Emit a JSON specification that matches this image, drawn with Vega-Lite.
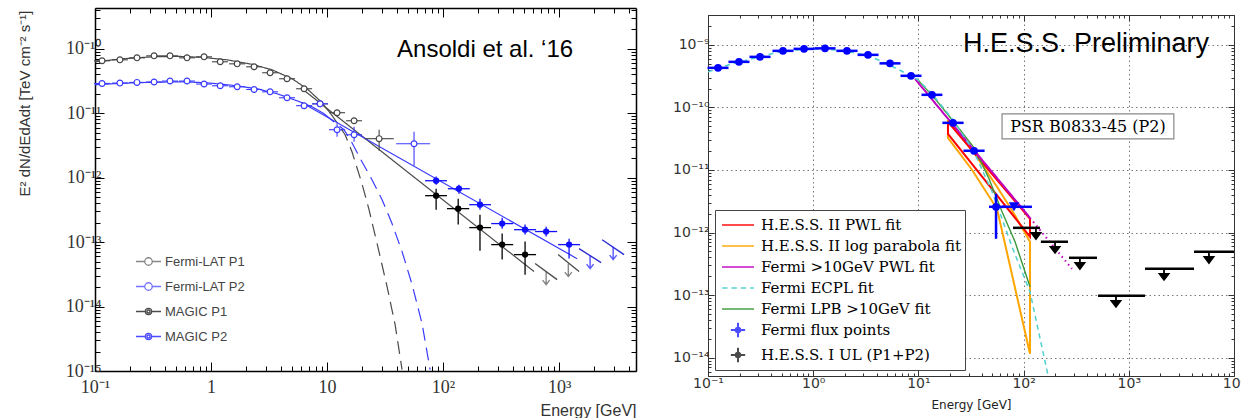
{
"$schema": "https://vega.github.io/schema/vega-lite/v6.json",
"padding": {"left": 17, "top": 1, "right": 0, "bottom": 0},
"background": "white",
"config": {"view": {"stroke": null}},
"datasets": {
"L_text": [{"label": "Ansoldi et al. ‘16", "E": 40.1, "F": 7.51e-11}],
"L_pts": [
{"series":"Fermi-LAT P1","E":0.115,"Elo":0.098,"Ehi":0.135,"F":6.52e-11,"Flo":6.3e-11,"Fhi":6.75e-11},
{"series":"Fermi-LAT P1","E":0.164,"Elo":0.140,"Ehi":0.192,"F":6.75e-11,"Flo":6.5e-11,"Fhi":7.0e-11},
{"series":"Fermi-LAT P1","E":0.230,"Elo":0.197,"Ehi":0.270,"F":7.25e-11,"Flo":7.0e-11,"Fhi":7.5e-11},
{"series":"Fermi-LAT P1","E":0.323,"Elo":0.276,"Ehi":0.378,"F":7.78e-11,"Flo":7.5e-11,"Fhi":8.05e-11},
{"series":"Fermi-LAT P1","E":0.443,"Elo":0.378,"Ehi":0.519,"F":7.78e-11,"Flo":7.5e-11,"Fhi":8.05e-11},
{"series":"Fermi-LAT P1","E":0.621,"Elo":0.530,"Ehi":0.727,"F":7.25e-11,"Flo":7.0e-11,"Fhi":7.5e-11},
{"series":"Fermi-LAT P1","E":0.871,"Elo":0.744,"Ehi":1.02,"F":7.51e-11,"Flo":7.25e-11,"Fhi":7.8e-11},
{"series":"Fermi-LAT P1","E":1.20,"Elo":1.02,"Ehi":1.40,"F":6.29e-11,"Flo":6.05e-11,"Fhi":6.5e-11},
{"series":"Fermi-LAT P1","E":1.68,"Elo":1.43,"Ehi":1.97,"F":5.85e-11,"Flo":5.65e-11,"Fhi":6.05e-11},
{"series":"Fermi-LAT P1","E":2.35,"Elo":2.01,"Ehi":2.75,"F":5.26e-11,"Flo":5.05e-11,"Fhi":5.45e-11},
{"series":"Fermi-LAT P1","E":3.23,"Elo":2.76,"Ehi":3.78,"F":4.25e-11,"Flo":4.1e-11,"Fhi":4.4e-11},
{"series":"Fermi-LAT P1","E":4.52,"Elo":3.86,"Ehi":5.30,"F":3.43e-11,"Flo":3.3e-11,"Fhi":3.55e-11},
{"series":"Fermi-LAT P1","E":6.34,"Elo":5.41,"Ehi":7.43,"F":2.40e-11,"Flo":2.3e-11,"Fhi":2.5e-11},
{"series":"Fermi-LAT P1","E":8.71,"Elo":7.43,"Ehi":10.2,"F":1.40e-11,"Flo":1.3e-11,"Fhi":1.5e-11},
{"series":"Fermi-LAT P1","E":12.2,"Elo":10.4,"Ehi":14.3,"F":1.02e-11,"Flo":9.2e-12,"Fhi":1.13e-11},
{"series":"Fermi-LAT P1","E":17.1,"Elo":14.6,"Ehi":20.0,"F":7.65e-12,"Flo":6.9e-12,"Fhi":8.5e-12},
{"series":"Fermi-LAT P1","E":28.1,"Elo":21.0,"Ehi":37.6,"F":4.03e-12,"Flo":2.62e-12,"Fhi":5.55e-12},
{"series":"Fermi-LAT P2","E":0.115,"Elo":0.098,"Ehi":0.135,"F":2.90e-11,"Flo":2.8e-11,"Fhi":3.0e-11},
{"series":"Fermi-LAT P2","E":0.164,"Elo":0.140,"Ehi":0.192,"F":2.94e-11,"Flo":2.84e-11,"Fhi":3.04e-11},
{"series":"Fermi-LAT P2","E":0.230,"Elo":0.197,"Ehi":0.270,"F":3.01e-11,"Flo":2.91e-11,"Fhi":3.11e-11},
{"series":"Fermi-LAT P2","E":0.323,"Elo":0.276,"Ehi":0.378,"F":3.05e-11,"Flo":2.95e-11,"Fhi":3.15e-11},
{"series":"Fermi-LAT P2","E":0.443,"Elo":0.378,"Ehi":0.519,"F":3.16e-11,"Flo":3.05e-11,"Fhi":3.27e-11},
{"series":"Fermi-LAT P2","E":0.621,"Elo":0.530,"Ehi":0.727,"F":3.16e-11,"Flo":3.05e-11,"Fhi":3.27e-11},
{"series":"Fermi-LAT P2","E":0.871,"Elo":0.744,"Ehi":1.02,"F":2.84e-11,"Flo":2.74e-11,"Fhi":2.94e-11},
{"series":"Fermi-LAT P2","E":1.20,"Elo":1.02,"Ehi":1.40,"F":2.67e-11,"Flo":2.58e-11,"Fhi":2.76e-11},
{"series":"Fermi-LAT P2","E":1.68,"Elo":1.43,"Ehi":1.97,"F":2.58e-11,"Flo":2.49e-11,"Fhi":2.67e-11},
{"series":"Fermi-LAT P2","E":2.35,"Elo":2.01,"Ehi":2.75,"F":2.34e-11,"Flo":2.26e-11,"Fhi":2.42e-11},
{"series":"Fermi-LAT P2","E":3.23,"Elo":2.76,"Ehi":3.78,"F":2.15e-11,"Flo":2.07e-11,"Fhi":2.23e-11},
{"series":"Fermi-LAT P2","E":4.52,"Elo":3.86,"Ehi":5.30,"F":1.74e-11,"Flo":1.67e-11,"Fhi":1.81e-11},
{"series":"Fermi-LAT P2","E":6.34,"Elo":5.41,"Ehi":7.43,"F":1.31e-11,"Flo":1.25e-11,"Fhi":1.37e-11},
{"series":"Fermi-LAT P2","E":8.71,"Elo":7.43,"Ehi":10.2,"F":1.40e-11,"Flo":1.3e-11,"Fhi":1.5e-11},
{"series":"Fermi-LAT P2","E":12.2,"Elo":10.4,"Ehi":14.3,"F":5.55e-12,"Flo":4.33e-12,"Fhi":6.87e-12},
{"series":"Fermi-LAT P2","E":17.1,"Elo":14.6,"Ehi":20.0,"F":4.64e-12,"Flo":3.6e-12,"Fhi":6.18e-12},
{"series":"Fermi-LAT P2","E":56.2,"Elo":39.4,"Ehi":77.3,"F":3.37e-12,"Flo":1.53e-12,"Fhi":5.16e-12},
{"series":"MAGIC P1","E":87.1,"Elo":70,"Ehi":108,"F":5.26e-13,"Flo":3.19e-13,"Fhi":6.74e-13},
{"series":"MAGIC P1","E":135,"Elo":108,"Ehi":168,"F":3.31e-13,"Flo":1.87e-13,"Fhi":4.72e-13},
{"series":"MAGIC P1","E":208,"Elo":168,"Ehi":259,"F":1.68e-13,"Flo":7.38e-14,"Fhi":2.67e-13},
{"series":"MAGIC P1","E":323,"Elo":260,"Ehi":402,"F":9.15e-14,"Flo":5.36e-14,"Fhi":1.36e-13},
{"series":"MAGIC P1","E":509,"Elo":409,"Ehi":633,"F":6.40e-14,"Flo":3.13e-14,"Fhi":1.02e-13},
{"series":"MAGIC P2","E":87.1,"Elo":70,"Ehi":108,"F":8.97e-13,"Flo":7.78e-13,"Fhi":1.04e-12},
{"series":"MAGIC P2","E":137,"Elo":110,"Ehi":170,"F":6.74e-13,"Flo":5.65e-13,"Fhi":7.78e-13},
{"series":"MAGIC P2","E":208,"Elo":168,"Ehi":259,"F":3.81e-13,"Flo":3.19e-13,"Fhi":4.72e-13},
{"series":"MAGIC P2","E":323,"Elo":260,"Ehi":402,"F":1.94e-13,"Flo":1.62e-13,"Fhi":2.40e-13},
{"series":"MAGIC P2","E":509,"Elo":409,"Ehi":633,"F":1.56e-13,"Flo":1.31e-13,"Fhi":1.87e-13},
{"series":"MAGIC P2","E":773,"Elo":621,"Ehi":962,"F":1.46e-13,"Flo":1.22e-13,"Fhi":1.74e-13},
{"series":"MAGIC P2","E":1219,"Elo":980,"Ehi":1516,"F":9.15e-14,"Flo":5.55e-14,"Fhi":1.13e-13}
],
"L_curve": [
{"pulse":"P1","part":"solid","E":0.1,"F":6.29e-11},
{"pulse":"P1","part":"solid","E":0.171,"F":7.00e-11},
{"pulse":"P1","part":"solid","E":0.310,"F":7.51e-11},
{"pulse":"P1","part":"solid","E":0.509,"F":7.65e-11},
{"pulse":"P1","part":"solid","E":0.836,"F":7.38e-11},
{"pulse":"P1","part":"solid","E":1.374,"F":6.75e-11},
{"pulse":"P1","part":"solid","E":2.257,"F":5.75e-11},
{"pulse":"P1","part":"solid","E":3.357,"F":4.72e-11},
{"pulse":"P1","part":"solid","E":4.993,"F":3.43e-11},
{"pulse":"P1","part":"solid","E":6.725,"F":2.40e-11},
{"pulse":"P1","part":"solid","E":8.707,"F":1.56e-11},
{"pulse":"P1","part":"solid","E":10.6,"F":1.02e-11},
{"pulse":"P1","part":"dashed","E":10.6,"F":1.02e-11},
{"pulse":"P1","part":"dashed","E":12.2,"F":7.13e-12},
{"pulse":"P1","part":"dashed","E":14.3,"F":4.64e-12},
{"pulse":"P1","part":"dashed","E":16.4,"F":2.53e-12},
{"pulse":"P1","part":"dashed","E":20.0,"F":8.07e-13},
{"pulse":"P1","part":"dashed","E":23.0,"F":3.19e-13},
{"pulse":"P1","part":"dashed","E":27.0,"F":9.48e-14},
{"pulse":"P1","part":"dashed","E":32.9,"F":2.04e-14},
{"pulse":"P1","part":"dashed","E":38.6,"F":5.26e-15},
{"pulse":"P1","part":"dashed","E":44.3,"F":1.05e-15},
{"pulse":"P2","part":"solid","E":0.1,"F":2.77e-11},
{"pulse":"P2","part":"solid","E":0.171,"F":2.92e-11},
{"pulse":"P2","part":"solid","E":0.310,"F":3.03e-11},
{"pulse":"P2","part":"solid","E":0.562,"F":3.08e-11},
{"pulse":"P2","part":"solid","E":0.924,"F":2.97e-11},
{"pulse":"P2","part":"solid","E":1.517,"F":2.72e-11},
{"pulse":"P2","part":"solid","E":2.493,"F":2.40e-11},
{"pulse":"P2","part":"solid","E":3.707,"F":2.01e-11},
{"pulse":"P2","part":"solid","E":5.513,"F":1.56e-11},
{"pulse":"P2","part":"solid","E":7.427,"F":1.26e-11},
{"pulse":"P2","part":"solid","E":9.42,"F":9.83e-12},
{"pulse":"P2","part":"dashed","E":9.42,"F":9.83e-12},
{"pulse":"P2","part":"dashed","E":11.7,"F":7.13e-12},
{"pulse":"P2","part":"dashed","E":14.0,"F":5.55e-12},
{"pulse":"P2","part":"dashed","E":16.4,"F":3.49e-12},
{"pulse":"P2","part":"dashed","E":20.0,"F":1.77e-12},
{"pulse":"P2","part":"dashed","E":24.4,"F":9.31e-13},
{"pulse":"P2","part":"dashed","E":29.8,"F":4.56e-13},
{"pulse":"P2","part":"dashed","E":36.3,"F":1.94e-13},
{"pulse":"P2","part":"dashed","E":44.3,"F":7.13e-14},
{"pulse":"P2","part":"dashed","E":54.1,"F":2.19e-14},
{"pulse":"P2","part":"dashed","E":65.9,"F":5.44e-15},
{"pulse":"P2","part":"dashed","E":77.3,"F":1.05e-15}
],
"L_pl": [
{"pulse":"P1","E":6.08,"F":2.40e-11},{"pulse":"P1","E":608,"F":3.49e-14},
{"pulse":"P2","E":6.08,"F":1.46e-11},{"pulse":"P2","E":1429,"F":5.54e-14}
],
"L_ulseg": [
{"pulse":"P1","id":"a","E":621,"F":4.65e-14},{"pulse":"P1","id":"a","E":961,"F":2.62e-14},
{"pulse":"P1","id":"b","E":980,"F":6.40e-14},{"pulse":"P1","id":"b","E":1486,"F":3.49e-14},
{"pulse":"P2","id":"c","E":1486,"F":7.93e-14},{"pulse":"P2","id":"c","E":2301,"F":4.81e-14},
{"pulse":"P2","id":"d","E":2349,"F":1.09e-13},{"pulse":"P2","id":"d","E":3631,"F":6.40e-14}
],
"L_ularr": [
{"pulse":"P1","E":773,"F":3.49e-14},{"pulse":"P1","E":1200,"F":4.65e-14},
{"pulse":"P2","E":1850,"F":6.18e-14},{"pulse":"P2","E":2924,"F":8.51e-14}
],
"L_leg": [
{"series":"Fermi-LAT P1","E":null,"F":null},{"series":"Fermi-LAT P2","E":null,"F":null},
{"series":"MAGIC P1","E":null,"F":null},{"series":"MAGIC P2","E":null,"F":null}
],
"R_text": [{"label":"H.E.S.S. Preliminary","E":26.5,"F":7.73e-10}],
"R_psr": [{"label":"PSR B0833-45 (P2)","E":409,"F":4.07e-11,"Elo":62.4,"Ehi":2680,"Flo":3.15e-11,"Fhi":7.9e-11}],
"R_fermi": [
{"E":0.1245,"Elo":0.0989,"Ehi":0.1567,"F":4.29e-10},
{"E":0.197,"Elo":0.1565,"Ehi":0.248,"F":5.35e-10},
{"E":0.312,"Elo":0.248,"Ehi":0.393,"F":6.43e-10},
{"E":0.516,"Elo":0.410,"Ehi":0.650,"F":8.02e-10},
{"E":0.818,"Elo":0.650,"Ehi":1.03,"F":8.63e-10},
{"E":1.295,"Elo":1.03,"Ehi":1.63,"F":8.79e-10},
{"E":2.094,"Elo":1.66,"Ehi":2.64,"F":8.02e-10},
{"E":3.319,"Elo":2.64,"Ehi":4.18,"F":6.92e-10},
{"E":5.370,"Elo":4.27,"Ehi":6.76,"F":5.06e-10},
{"E":8.51,"Elo":6.76,"Ehi":10.7,"F":3.20e-10},
{"E":13.46,"Elo":10.7,"Ehi":16.9,"F":1.59e-10},
{"E":21.33,"Elo":16.9,"Ehi":26.9,"F":5.67e-11},
{"E":33.8,"Elo":26.8,"Ehi":42.6,"F":2.03e-11},
{"E":54.7,"Elo":46.9,"Ehi":65.2,"F":2.58e-12}
],
"R_fermi_err": [{"E":54.7,"Flo":7.96e-13,"Fhi":4.17e-12}],
"R_fermi_ul": [{"E":81.1,"Elo":62.4,"Ehi":120,"F":2.58e-12}],
"R_ecpl": [
{"E":0.1,"F":3.71e-10},{"E":0.158,"F":4.80e-10},{"E":0.262,"F":5.98e-10},{"E":0.433,"F":7.45e-10},
{"E":0.733,"F":8.32e-10},{"E":1.213,"F":8.63e-10},{"E":2.006,"F":8.02e-10},{"E":3.39,"F":6.67e-10},
{"E":5.26,"F":4.80e-10},{"E":7.46,"F":3.57e-10},{"E":9.91,"F":2.76e-10},{"E":13.46,"F":1.65e-10},
{"E":21.33,"F":6.34e-11},{"E":33.8,"F":1.95e-11},{"E":50.2,"F":4.49e-12},{"E":62.4,"F":1.66e-12},
{"E":77.6,"F":5.93e-13},{"E":115,"F":1.13e-13},{"E":171,"F":5.15e-15}
],
"R_pwl": [
{"part":"fit","E":9.29,"F":2.86e-10},{"part":"fit","E":115,"F":1.72e-12},
{"part":"ext","E":115,"F":1.72e-12},{"part":"ext","E":288,"F":2.64e-13}
],
"R_lpb": [
{"E":9.70,"F":2.86e-10},{"E":14.4,"F":1.37e-10},{"E":21.3,"F":6.11e-11},{"E":34.5,"F":2.18e-11},
{"E":46.9,"F":7.23e-12},{"E":62.4,"F":2.15e-12},{"E":82.9,"F":7.13e-13},{"E":115,"F":1.36e-13}
],
"R_red": [
{"o":1,"E":19.1,"F":5.89e-11},{"o":2,"E":115,"F":1.66e-12},{"o":3,"E":115,"F":8.57e-13},
{"o":4,"E":19.1,"F":3.79e-11},{"o":5,"E":19.1,"F":5.89e-11}
],
"R_orange": [
{"o":1,"E":19.1,"F":6.34e-11},{"o":2,"E":32.3,"F":2.10e-11},{"o":3,"E":55.9,"F":5.39e-12},
{"o":4,"E":81.1,"F":2.00e-12},{"o":5,"E":115,"F":7.13e-13},{"o":6,"E":115,"F":1.16e-14},
{"o":7,"E":55.9,"F":2.40e-12},{"o":8,"E":32.3,"F":1.01e-11},{"o":9,"E":19.1,"F":3.27e-11},
{"o":10,"E":19.1,"F":6.34e-11}
],
"R_hess": [
{"Elo":79.3,"Ehi":143,"Earr":131,"F":1.19e-12},
{"Elo":146,"Ehi":264,"Earr":199,"F":7.13e-13},
{"Elo":270,"Ehi":499,"Earr":343,"F":3.95e-13},
{"Elo":510,"Ehi":1426,"Earr":755,"F":9.77e-14},
{"Elo":1426,"Ehi":4169,"Earr":2163,"F":2.64e-13},
{"Elo":4169,"Ehi":10000,"Earr":5781,"F":4.93e-13}
],
"R_leg": [
{"series2":"H.E.S.S. II PWL fit","E":null,"F":null},
{"series2":"H.E.S.S. II log parabola fit","E":null,"F":null},
{"series2":"Fermi >10GeV PWL fit","E":null,"F":null},
{"series2":"Fermi ECPL fit","E":null,"F":null},
{"series2":"Fermi LPB >10GeV fit","E":null,"F":null},
{"series2":"Fermi flux points","E":null,"F":null},
{"series2":"H.E.S.S. I UL (P1+P2)","E":null,"F":null}
]
},
"spacing": 72,
"bounds": "flush",
"resolve": {"scale": {"color": "independent", "shape": "independent", "strokeDash": "independent", "x": "independent", "y": "independent"},
            "legend": {"color": "independent", "shape": "independent", "strokeDash": "independent"}},
"hconcat": [
{
"width": 541, "height": 363,
"resolve": {"axis": {"x": "independent", "y": "independent"}},
"layer": [
{"data": {"name": "L_text"},
 "mark": {"type": "text", "align": "left", "baseline": "alphabetic", "font": "Liberation Sans", "fontSize": 24, "color": "black"},
 "encoding": {
  "x": {"field": "E", "type": "quantitative", "scale": {"type": "log", "domain": [0.1, 4600], "nice": false},
   "axis": {"orient": "bottom", "values": [0.1,0.2,0.3,0.4,0.5,0.6,0.7,0.8,0.9,1,2,3,4,5,6,7,8,9,10,20,30,40,50,60,70,80,90,100,200,300,400,500,600,700,800,900,1000,2000,3000,4000],
    "labelExpr": "datum.value===0.1?'10⁻¹':datum.value===1?'1':datum.value===10?'10':datum.value===100?'10²':datum.value===1000?'10³':''",
    "tickSize": {"condition": {"test": "abs(log(datum.value)/LN10-round(log(datum.value)/LN10))<0.001", "value": -9}, "value": -5},
    "tickColor": "black", "domainColor": "black", "domainWidth": 1.5, "grid": false,
    "labelFont": "Liberation Serif", "labelFontSize": 18, "labelColor": "#333", "labelPadding": 16, "labelFlush": false, "labelOverlap": false,
    "title": "Energy [GeV]", "titleFont": "Liberation Sans", "titleFontSize": 16, "titleFontWeight": "normal", "titleColor": "#333", "titleAnchor": "end", "titlePadding": 2}},
  "y": {"field": "F", "type": "quantitative", "scale": {"type": "log", "domain": [1e-15, 4.3e-10], "nice": false},
   "axis": {"orient": "left", "values": [1e-15,2e-15,3e-15,4e-15,5e-15,6e-15,7e-15,8e-15,9e-15,1e-14,2e-14,3e-14,4e-14,5e-14,6e-14,7e-14,8e-14,9e-14,1e-13,2e-13,3e-13,4e-13,5e-13,6e-13,7e-13,8e-13,9e-13,1e-12,2e-12,3e-12,4e-12,5e-12,6e-12,7e-12,8e-12,9e-12,1e-11,2e-11,3e-11,4e-11,5e-11,6e-11,7e-11,8e-11,9e-11,1e-10,2e-10,3e-10,4e-10],
    "labelExpr": "datum.value===1e-10?'10⁻¹⁰':datum.value===1e-11?'10⁻¹¹':datum.value===1e-12?'10⁻¹²':datum.value===1e-13?'10⁻¹³':datum.value===1e-14?'10⁻¹⁴':datum.value===1e-15?'10⁻¹⁵':''",
    "tickSize": {"condition": {"test": "abs(log(datum.value)/LN10-round(log(datum.value)/LN10))<0.001", "value": -9}, "value": -5},
    "tickColor": "black", "domainColor": "black", "domainWidth": 1.5, "grid": false,
    "labelFont": "Liberation Serif", "labelFontSize": 18, "labelColor": "#333", "labelPadding": 3, "labelOverlap": false, "labelFlush": false,
    "title": "E² dN/dEdAdt [TeV cm⁻² s⁻¹]", "titleFont": "Liberation Sans", "titleFontSize": 15, "titleFontWeight": "normal", "titleColor": "#333",
    "titleAngle": 270, "titleX": -71, "titleY": 95, "titleAlign": "center", "titleBaseline": "middle"}},
  "text": {"field": "label"}}},
{"data": {"name": "L_text"},
 "mark": {"type": "text", "opacity": 0},
 "encoding": {
  "x": {"field": "E", "type": "quantitative",
   "axis": {"orient": "top", "values": [0.1,0.2,0.3,0.4,0.5,0.6,0.7,0.8,0.9,1,2,3,4,5,6,7,8,9,10,20,30,40,50,60,70,80,90,100,200,300,400,500,600,700,800,900,1000,2000,3000,4000],
    "labels": false, "title": null, "grid": false,
    "tickSize": {"condition": {"test": "abs(log(datum.value)/LN10-round(log(datum.value)/LN10))<0.001", "value": -9}, "value": -5},
    "tickColor": "black", "domainColor": "black", "domainWidth": 1.5}},
  "y": {"field": "F", "type": "quantitative",
   "axis": {"orient": "right", "values": [1e-15,2e-15,3e-15,4e-15,5e-15,6e-15,7e-15,8e-15,9e-15,1e-14,2e-14,3e-14,4e-14,5e-14,6e-14,7e-14,8e-14,9e-14,1e-13,2e-13,3e-13,4e-13,5e-13,6e-13,7e-13,8e-13,9e-13,1e-12,2e-12,3e-12,4e-12,5e-12,6e-12,7e-12,8e-12,9e-12,1e-11,2e-11,3e-11,4e-11,5e-11,6e-11,7e-11,8e-11,9e-11,1e-10,2e-10,3e-10,4e-10],
    "labels": false, "title": null, "grid": false,
    "tickSize": {"condition": {"test": "abs(log(datum.value)/LN10-round(log(datum.value)/LN10))<0.001", "value": -9}, "value": -5},
    "tickColor": "black", "domainColor": "black", "domainWidth": 1.5}}}},
{"data": {"name": "L_curve"}, "transform": [{"filter": "datum.pulse==='P1'"}],
 "mark": {"type": "line", "color": "#4a4a4a", "strokeWidth": 1.2, "clip": true},
 "encoding": {"x": {"field": "E", "type": "quantitative", "axis": null}, "y": {"field": "F", "type": "quantitative", "axis": null},
  "strokeDash": {"field": "part", "type": "nominal", "scale": {"domain": ["solid", "dashed"], "range": [[1, 0], [13, 7]]}, "legend": null}}},
{"data": {"name": "L_curve"}, "transform": [{"filter": "datum.pulse==='P2'"}],
 "mark": {"type": "line", "color": "#3a3aff", "strokeWidth": 1.2, "clip": true},
 "encoding": {"x": {"field": "E", "type": "quantitative", "axis": null}, "y": {"field": "F", "type": "quantitative", "axis": null},
  "strokeDash": {"field": "part", "type": "nominal", "scale": {"domain": ["solid", "dashed"], "range": [[1, 0], [13, 7]]}, "legend": null}}},
{"data": {"name": "L_pl"}, "transform": [{"filter": "datum.pulse==='P1'"}],
 "mark": {"type": "line", "color": "#4a4a4a", "strokeWidth": 1.2},
 "encoding": {"x": {"field": "E", "type": "quantitative", "axis": null}, "y": {"field": "F", "type": "quantitative", "axis": null}}},
{"data": {"name": "L_pl"}, "transform": [{"filter": "datum.pulse==='P2'"}],
 "mark": {"type": "line", "color": "#3a3aff", "strokeWidth": 1.2},
 "encoding": {"x": {"field": "E", "type": "quantitative", "axis": null}, "y": {"field": "F", "type": "quantitative", "axis": null}}},
{"data": {"name": "L_ulseg"}, "transform": [{"filter": "datum.pulse==='P1'"}],
 "mark": {"type": "line", "color": "#4a4a4a", "strokeWidth": 1.3},
 "encoding": {"x": {"field": "E", "type": "quantitative", "axis": null}, "y": {"field": "F", "type": "quantitative", "axis": null}, "detail": {"field": "id"}}},
{"data": {"name": "L_ulseg"}, "transform": [{"filter": "datum.pulse==='P2'"}],
 "mark": {"type": "line", "color": "#2a2ad0", "strokeWidth": 1.3},
 "encoding": {"x": {"field": "E", "type": "quantitative", "axis": null}, "y": {"field": "F", "type": "quantitative", "axis": null}, "detail": {"field": "id"}}},
{"data": {"name": "L_ularr"}, "transform": [{"filter": "datum.pulse==='P1'"}],
 "mark": {"type": "point", "shape": "M0,0V2.6M-0.7,1.7L0,2.6L0.7,1.7", "size": 100, "filled": false, "color": "#4a4a4a", "strokeWidth": 1.3},
 "encoding": {"x": {"field": "E", "type": "quantitative", "axis": null}, "y": {"field": "F", "type": "quantitative", "axis": null}}},
{"data": {"name": "L_ularr"}, "transform": [{"filter": "datum.pulse==='P2'"}],
 "mark": {"type": "point", "shape": "M0,0V2.6M-0.7,1.7L0,2.6L0.7,1.7", "size": 100, "filled": false, "color": "#1a1aff", "strokeWidth": 1.5},
 "encoding": {"x": {"field": "E", "type": "quantitative", "axis": null}, "y": {"field": "F", "type": "quantitative", "axis": null}}},
{"data": {"name": "L_pts"}, "transform": [{"filter": "datum.series==='Fermi-LAT P1'"}],
 "mark": {"type": "rule", "color": "#444", "strokeWidth": 1.1},
 "encoding": {"x": {"field": "Elo", "type": "quantitative", "axis": null}, "x2": {"field": "Ehi"}, "y": {"field": "F", "type": "quantitative", "axis": null}}},
{"data": {"name": "L_pts"}, "transform": [{"filter": "datum.series==='Fermi-LAT P1'"}],
 "mark": {"type": "rule", "color": "#444", "strokeWidth": 1.1},
 "encoding": {"x": {"field": "E", "type": "quantitative", "axis": null}, "y": {"field": "Flo", "type": "quantitative", "axis": null}, "y2": {"field": "Fhi"}}},
{"data": {"name": "L_pts"}, "transform": [{"filter": "datum.series==='Fermi-LAT P1'"}],
 "mark": {"type": "point", "shape": "circle", "size": 34, "fill": "white", "stroke": "#444", "strokeWidth": 1.2, "opacity": 1},
 "encoding": {"x": {"field": "E", "type": "quantitative", "axis": null}, "y": {"field": "F", "type": "quantitative", "axis": null}}},
{"data": {"name": "L_pts"}, "transform": [{"filter": "datum.series==='Fermi-LAT P2'"}],
 "mark": {"type": "rule", "color": "#3a3aff", "strokeWidth": 1.1},
 "encoding": {"x": {"field": "Elo", "type": "quantitative", "axis": null}, "x2": {"field": "Ehi"}, "y": {"field": "F", "type": "quantitative", "axis": null}}},
{"data": {"name": "L_pts"}, "transform": [{"filter": "datum.series==='Fermi-LAT P2'"}],
 "mark": {"type": "rule", "color": "#3a3aff", "strokeWidth": 1.1},
 "encoding": {"x": {"field": "E", "type": "quantitative", "axis": null}, "y": {"field": "Flo", "type": "quantitative", "axis": null}, "y2": {"field": "Fhi"}}},
{"data": {"name": "L_pts"}, "transform": [{"filter": "datum.series==='Fermi-LAT P2'"}],
 "mark": {"type": "point", "shape": "circle", "size": 34, "fill": "white", "stroke": "#3a3aff", "strokeWidth": 1.2, "opacity": 1},
 "encoding": {"x": {"field": "E", "type": "quantitative", "axis": null}, "y": {"field": "F", "type": "quantitative", "axis": null}}},
{"data": {"name": "L_pts"}, "transform": [{"filter": "datum.series==='MAGIC P1'"}],
 "mark": {"type": "rule", "color": "#000", "strokeWidth": 1.3},
 "encoding": {"x": {"field": "Elo", "type": "quantitative", "axis": null}, "x2": {"field": "Ehi"}, "y": {"field": "F", "type": "quantitative", "axis": null}}},
{"data": {"name": "L_pts"}, "transform": [{"filter": "datum.series==='MAGIC P1'"}],
 "mark": {"type": "rule", "color": "#000", "strokeWidth": 1.3},
 "encoding": {"x": {"field": "E", "type": "quantitative", "axis": null}, "y": {"field": "Flo", "type": "quantitative", "axis": null}, "y2": {"field": "Fhi"}}},
{"data": {"name": "L_pts"}, "transform": [{"filter": "datum.series==='MAGIC P1'"}],
 "mark": {"type": "point", "shape": "circle", "size": 40, "filled": true, "color": "#000", "opacity": 1},
 "encoding": {"x": {"field": "E", "type": "quantitative", "axis": null}, "y": {"field": "F", "type": "quantitative", "axis": null}}},
{"data": {"name": "L_pts"}, "transform": [{"filter": "datum.series==='MAGIC P2'"}],
 "mark": {"type": "rule", "color": "#1010ff", "strokeWidth": 1.3},
 "encoding": {"x": {"field": "Elo", "type": "quantitative", "axis": null}, "x2": {"field": "Ehi"}, "y": {"field": "F", "type": "quantitative", "axis": null}}},
{"data": {"name": "L_pts"}, "transform": [{"filter": "datum.series==='MAGIC P2'"}],
 "mark": {"type": "rule", "color": "#1010ff", "strokeWidth": 1.3},
 "encoding": {"x": {"field": "E", "type": "quantitative", "axis": null}, "y": {"field": "Flo", "type": "quantitative", "axis": null}, "y2": {"field": "Fhi"}}},
{"data": {"name": "L_pts"}, "transform": [{"filter": "datum.series==='MAGIC P2'"}],
 "mark": {"type": "point", "shape": "circle", "size": 40, "filled": true, "color": "#1010ff", "opacity": 1},
 "encoding": {"x": {"field": "E", "type": "quantitative", "axis": null}, "y": {"field": "F", "type": "quantitative", "axis": null}}},
{"data": {"name": "L_leg"},
 "mark": {"type": "point", "filled": false, "strokeWidth": 1.3},
 "encoding": {"x": {"field": "E", "type": "quantitative", "axis": null}, "y": {"field": "F", "type": "quantitative", "axis": null},
  "color": {"field": "series", "type": "nominal",
   "scale": {"domain": ["Fermi-LAT P1", "Fermi-LAT P2", "MAGIC P1", "MAGIC P2"], "range": ["#555555", "#3a3aff", "#000000", "#0000ff"]},
   "legend": {"orient": "none", "legendX": 40, "legendY": 240, "title": null, "labelFont": "Liberation Sans", "labelFontSize": 13, "labelColor": "#444",
    "symbolSize": 625, "symbolStrokeWidth": 1.3, "labelOffset": 3, "rowPadding": 4, "padding": 0}},
  "shape": {"field": "series", "type": "nominal",
   "scale": {"domain": ["Fermi-LAT P1", "Fermi-LAT P2", "MAGIC P1", "MAGIC P2"],
    "range": ["M-1,0H-0.3M0.3,0H1M0.3,0A0.3,0.3 0 1 1 -0.3,0A0.3,0.3 0 1 1 0.3,0",
              "M-1,0H-0.3M0.3,0H1M0.3,0A0.3,0.3 0 1 1 -0.3,0A0.3,0.3 0 1 1 0.3,0",
              "M-1,0H-0.25M0.25,0H1M0.25,0A0.25,0.25 0 1 1 -0.25,0A0.25,0.25 0 1 1 0.25,0M0.12,0A0.12,0.12 0 1 1 -0.12,0A0.12,0.12 0 1 1 0.12,0",
              "M-1,0H-0.25M0.25,0H1M0.25,0A0.25,0.25 0 1 1 -0.25,0A0.25,0.25 0 1 1 0.25,0M0.12,0A0.12,0.12 0 1 1 -0.12,0A0.12,0.12 0 1 1 0.12,0"]}}}}
]
},
{
"spacing": 0,
"bounds": "flush",
"vconcat": [
{"width": 526, "height": 7, "data": {"values": [{"a": 1}]}, "mark": {"type": "point", "opacity": 0}},
{
"width": 526, "height": 361,
"resolve": {"axis": {"x": "independent", "y": "independent"}},
"layer": [
{"data": {"name": "R_text"},
 "mark": {"type": "text", "align": "left", "baseline": "alphabetic", "font": "Liberation Sans", "fontSize": 27, "color": "black"},
 "encoding": {
  "x": {"field": "E", "type": "quantitative", "scale": {"type": "log", "domain": [0.1, 10000], "nice": false},
   "axis": {"orient": "bottom", "values": [0.1,0.2,0.3,0.4,0.5,0.6,0.7,0.8,0.9,1,2,3,4,5,6,7,8,9,10,20,30,40,50,60,70,80,90,100,200,300,400,500,600,700,800,900,1000,2000,3000,4000,5000,6000,7000,8000,9000,10000],
    "labelExpr": "datum.value===0.1?'10⁻¹':datum.value===1?'10⁰':datum.value===10?'10¹':datum.value===100?'10²':datum.value===1000?'10³':datum.value===10000?'10⁴':''",
    "tickSize": {"condition": {"test": "abs(log(datum.value)/LN10-round(log(datum.value)/LN10))<0.001", "value": -6}, "value": -3},
    "tickColor": "#333", "domainColor": "#333", "domainWidth": 1,
    "grid": true, "gridColor": "#777", "gridDash": [1.5, 3], "gridWidth": 1,
    "gridOpacity": {"condition": {"test": "abs(log(datum.value)/LN10-round(log(datum.value)/LN10))<0.001", "value": 1}, "value": 0},
    "labelFont": "DejaVu Sans", "labelFontSize": 14, "labelColor": "#333", "labelPadding": 6, "labelFlush": false, "labelOverlap": false,
    "title": "Energy [GeV]", "titleFont": "DejaVu Sans", "titleFontSize": 12, "titleFontWeight": "normal", "titleColor": "#222", "titlePadding": 6}},
  "y": {"field": "F", "type": "quantitative", "scale": {"type": "log", "domain": [5.1e-15, 3.0e-9], "nice": false},
   "axis": {"orient": "left", "values": [6e-15,7e-15,8e-15,9e-15,1e-14,2e-14,3e-14,4e-14,5e-14,6e-14,7e-14,8e-14,9e-14,1e-13,2e-13,3e-13,4e-13,5e-13,6e-13,7e-13,8e-13,9e-13,1e-12,2e-12,3e-12,4e-12,5e-12,6e-12,7e-12,8e-12,9e-12,1e-11,2e-11,3e-11,4e-11,5e-11,6e-11,7e-11,8e-11,9e-11,1e-10,2e-10,3e-10,4e-10,5e-10,6e-10,7e-10,8e-10,9e-10,1e-9,2e-9,3e-9],
    "labelExpr": "datum.value===1e-9?'10⁻⁹':datum.value===1e-10?'10⁻¹⁰':datum.value===1e-11?'10⁻¹¹':datum.value===1e-12?'10⁻¹²':datum.value===1e-13?'10⁻¹³':datum.value===1e-14?'10⁻¹⁴':''",
    "tickSize": {"condition": {"test": "abs(log(datum.value)/LN10-round(log(datum.value)/LN10))<0.001", "value": -6}, "value": -3},
    "tickColor": "#333", "domainColor": "#333", "domainWidth": 1,
    "grid": true, "gridColor": "#777", "gridDash": [1.5, 3], "gridWidth": 1,
    "gridOpacity": {"condition": {"test": "abs(log(datum.value)/LN10-round(log(datum.value)/LN10))<0.001", "value": 1}, "value": 0},
    "labelFont": "DejaVu Sans", "labelFontSize": 14, "labelColor": "#333", "labelPadding": 5, "labelOverlap": false, "labelFlush": false,
    "title": null}},
  "text": {"field": "label"}}},
{"data": {"name": "R_text"},
 "mark": {"type": "text", "opacity": 0},
 "encoding": {
  "x": {"field": "E", "type": "quantitative",
   "axis": {"orient": "top", "values": [0.1,0.2,0.3,0.4,0.5,0.6,0.7,0.8,0.9,1,2,3,4,5,6,7,8,9,10,20,30,40,50,60,70,80,90,100,200,300,400,500,600,700,800,900,1000,2000,3000,4000,5000,6000,7000,8000,9000,10000],
    "labels": false, "title": null, "grid": false,
    "tickSize": {"condition": {"test": "abs(log(datum.value)/LN10-round(log(datum.value)/LN10))<0.001", "value": -6}, "value": -3},
    "tickColor": "#333", "domainColor": "#333", "domainWidth": 1}},
  "y": {"field": "F", "type": "quantitative",
   "axis": {"orient": "right", "values": [6e-15,7e-15,8e-15,9e-15,1e-14,2e-14,3e-14,4e-14,5e-14,6e-14,7e-14,8e-14,9e-14,1e-13,2e-13,3e-13,4e-13,5e-13,6e-13,7e-13,8e-13,9e-13,1e-12,2e-12,3e-12,4e-12,5e-12,6e-12,7e-12,8e-12,9e-12,1e-11,2e-11,3e-11,4e-11,5e-11,6e-11,7e-11,8e-11,9e-11,1e-10,2e-10,3e-10,4e-10,5e-10,6e-10,7e-10,8e-10,9e-10,1e-9,2e-9,3e-9],
    "labels": false, "title": null, "grid": false,
    "tickSize": {"condition": {"test": "abs(log(datum.value)/LN10-round(log(datum.value)/LN10))<0.001", "value": -6}, "value": -3},
    "tickColor": "#333", "domainColor": "#333", "domainWidth": 1}}}},
{"data": {"name": "R_psr"},
 "mark": {"type": "rect", "fill": "white", "stroke": "#888", "strokeWidth": 1.2},
 "encoding": {"x": {"field": "Elo", "type": "quantitative", "axis": null}, "x2": {"field": "Ehi"}, "y": {"field": "Flo", "type": "quantitative", "axis": null}, "y2": {"field": "Fhi"}}},
{"data": {"name": "R_psr"},
 "mark": {"type": "text", "align": "center", "baseline": "alphabetic", "font": "DejaVu Serif", "fontSize": 16, "color": "black"},
 "encoding": {"x": {"field": "E", "type": "quantitative", "axis": null}, "y": {"field": "F", "type": "quantitative", "axis": null}, "text": {"field": "label"}}},
{"data": {"name": "R_orange"},
 "mark": {"type": "line", "color": "#ffa500", "strokeWidth": 2},
 "encoding": {"x": {"field": "E", "type": "quantitative", "axis": null}, "y": {"field": "F", "type": "quantitative", "axis": null}, "order": {"field": "o"}}},
{"data": {"name": "R_red"},
 "mark": {"type": "line", "color": "#ff0000", "strokeWidth": 2},
 "encoding": {"x": {"field": "E", "type": "quantitative", "axis": null}, "y": {"field": "F", "type": "quantitative", "axis": null}, "order": {"field": "o"}}},
{"data": {"name": "R_lpb"},
 "mark": {"type": "line", "color": "#3c9a3c", "strokeWidth": 1.4},
 "encoding": {"x": {"field": "E", "type": "quantitative", "axis": null}, "y": {"field": "F", "type": "quantitative", "axis": null}}},
{"data": {"name": "R_pwl"},
 "mark": {"type": "line", "color": "#c000c0", "strokeWidth": 2},
 "encoding": {"x": {"field": "E", "type": "quantitative", "axis": null}, "y": {"field": "F", "type": "quantitative", "axis": null},
  "strokeDash": {"field": "part", "type": "nominal", "scale": {"domain": ["fit", "ext"], "range": [[1, 0], [1.5, 3.5]]}, "legend": null}}},
{"data": {"name": "R_ecpl"},
 "mark": {"type": "line", "color": "#4fd0d0", "strokeWidth": 1.5, "strokeDash": [5, 4], "clip": true},
 "encoding": {"x": {"field": "E", "type": "quantitative", "axis": null}, "y": {"field": "F", "type": "quantitative", "axis": null}}},
{"data": {"name": "R_fermi"},
 "mark": {"type": "rule", "color": "#0000ff", "strokeWidth": 2.5},
 "encoding": {"x": {"field": "Elo", "type": "quantitative", "axis": null}, "x2": {"field": "Ehi"}, "y": {"field": "F", "type": "quantitative", "axis": null}}},
{"data": {"name": "R_fermi_err"},
 "mark": {"type": "rule", "color": "#0000ff", "strokeWidth": 2.5},
 "encoding": {"x": {"field": "E", "type": "quantitative", "axis": null}, "y": {"field": "Flo", "type": "quantitative", "axis": null}, "y2": {"field": "Fhi"}}},
{"data": {"name": "R_fermi"},
 "mark": {"type": "point", "shape": "circle", "size": 60, "filled": true, "color": "#0000ff", "opacity": 1},
 "encoding": {"x": {"field": "E", "type": "quantitative", "axis": null}, "y": {"field": "F", "type": "quantitative", "axis": null}}},
{"data": {"name": "R_fermi_ul"},
 "mark": {"type": "rule", "color": "#0000ff", "strokeWidth": 2.5},
 "encoding": {"x": {"field": "Elo", "type": "quantitative", "axis": null}, "x2": {"field": "Ehi"}, "y": {"field": "F", "type": "quantitative", "axis": null}}},
{"data": {"name": "R_fermi_ul"},
 "mark": {"type": "point", "shape": "triangle-down", "size": 110, "filled": true, "color": "#0000ff", "opacity": 1},
 "encoding": {"x": {"field": "E", "type": "quantitative", "axis": null}, "y": {"field": "F", "type": "quantitative", "axis": null}}},
{"data": {"name": "R_hess"},
 "mark": {"type": "rule", "color": "#000", "strokeWidth": 2.5},
 "encoding": {"x": {"field": "Elo", "type": "quantitative", "axis": null}, "x2": {"field": "Ehi"}, "y": {"field": "F", "type": "quantitative", "axis": null}}},
{"data": {"name": "R_hess"},
 "mark": {"type": "point", "shape": "M0,0V1M-0.75,0.85H0.75L0,1.85Z", "size": 144, "filled": true, "color": "#000", "stroke": "#000", "strokeWidth": 1.8, "opacity": 1},
 "encoding": {"x": {"field": "Earr", "type": "quantitative", "axis": null}, "y": {"field": "F", "type": "quantitative", "axis": null}}},
{"data": {"name": "R_leg"},
 "mark": {"type": "point", "filled": false, "strokeWidth": 2},
 "encoding": {"x": {"field": "E", "type": "quantitative", "axis": null}, "y": {"field": "F", "type": "quantitative", "axis": null},
  "color": {"field": "series2", "type": "nominal",
   "scale": {"domain": ["H.E.S.S. II PWL fit", "H.E.S.S. II log parabola fit", "Fermi >10GeV PWL fit", "Fermi ECPL fit", "Fermi LPB >10GeV fit", "Fermi flux points", "H.E.S.S. I UL (P1+P2)"],
    "range": ["#ff0000", "#ffa500", "#c000c0", "#4fd0d0", "#3c9a3c", "#0000ff", "#000000"]},
   "legend": {"orient": "none", "legendX": 7, "legendY": 202, "title": null, "labelFont": "DejaVu Serif", "labelFontSize": 15, "labelColor": "black",
    "strokeColor": "#444", "fillColor": "white", "padding": 3, "symbolSize": 484, "symbolStrokeWidth": 2, "symbolOffset": 8, "labelOffset": 11, "rowPadding": 1, "labelLimit": 400}},
  "shape": {"field": "series2", "type": "nominal",
   "scale": {"domain": ["H.E.S.S. II PWL fit", "H.E.S.S. II log parabola fit", "Fermi >10GeV PWL fit", "Fermi ECPL fit", "Fermi LPB >10GeV fit", "Fermi flux points", "H.E.S.S. I UL (P1+P2)"],
    "range": ["M-1.45,0H1.45", "M-1.45,0H1.45", "M-1.45,0H1.45", "M-1.45,0H-0.95M-0.6,0H-0.1M0.25,0H0.75M1.1,0H1.45", "M-1.45,0H1.45",
              "M-0.65,0H0.65M0,-0.65V0.65M0.2,0A0.2,0.2 0 1 1 -0.2,0A0.2,0.2 0 1 1 0.2,0",
              "M-0.65,0H0.65M0,-0.65V0.65M0.2,0A0.2,0.2 0 1 1 -0.2,0A0.2,0.2 0 1 1 0.2,0"]}}}}
]
}
]
}
]
}
